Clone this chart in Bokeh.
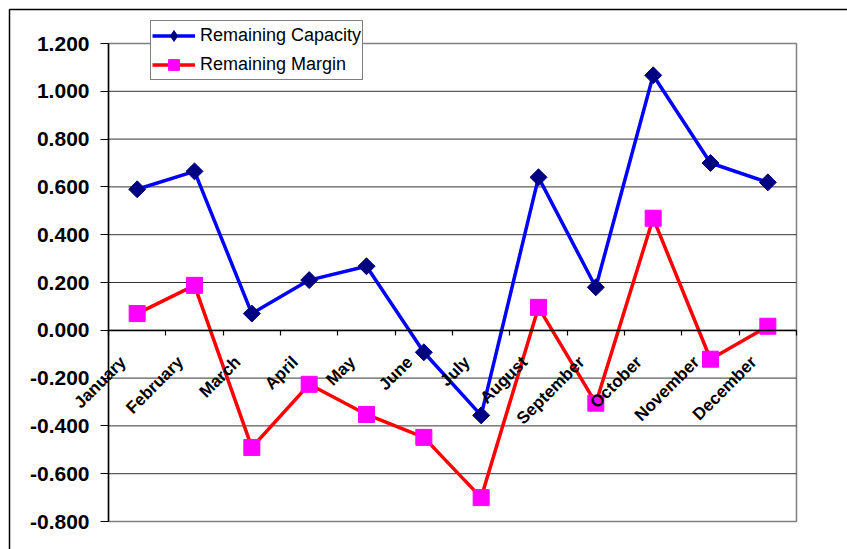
import math
from bokeh.plotting import figure
from bokeh.models import (Range1d, FixedTicker, PrintfTickFormatter, Legend, LegendItem,
                          BoxAnnotation, LinearAxis)
from bokeh.embed import file_html
from bokeh.resources import INLINE

months = ["January", "February", "March", "April", "May", "June", "July",
          "August", "September", "October", "November", "December"]
capacity = [0.590, 0.665, 0.070, 0.210, 0.268, -0.092, -0.356, 0.640, 0.180, 1.067, 0.700, 0.619]
margin = [0.070, 0.188, -0.490, -0.226, -0.352, -0.448, -0.700, 0.096, -0.305, 0.469, -0.121, 0.017]
y_ticks = [-0.8, -0.6, -0.4, -0.2, 0.0, 0.2, 0.4, 0.6, 0.8, 1.0, 1.2]

n = len(months)
x = [i + 0.5 for i in range(n)]
bounds = list(range(n + 1))
y_lo, y_hi = y_ticks[0], y_ticks[-1]

# layout (pixels) of the plot area inside the 847x549 canvas
W, H = 847, 549
PL, PR, PT, PB = 108, 796, 43, 521
ppx = (PR - PL) / n
ppy = (PB - PT) / (y_hi - y_lo)
LABEL_SHIFT = 14 / ppx  # rotated labels end slightly left of the category centre

FONT = "Liberation Sans"

p = figure(width=W, height=H, output_backend="svg", toolbar_location=None,
           x_range=Range1d(-PL / ppx, n + (W - PR) / ppx),
           y_range=Range1d(y_lo - (H - PB) / ppy, y_hi + PT / ppy),
           x_axis_location=None, y_axis_location=None, min_border=0)
p.background_fill_color = "white"
p.border_fill_color = "white"
p.outline_line_color = None
p.xgrid.visible = False
p.ygrid.visible = False

# plot-area box and gridlines
p.quad(left=0, right=n, bottom=y_lo, top=y_hi, fill_color=None,
       line_color="#808080", line_width=1.5)
inner = y_ticks[1:-1]
p.segment(x0=[0] * len(inner), y0=inner, x1=[n] * len(inner), y1=inner,
          line_color="#333333", line_width=1)

# value axis
yax = LinearAxis(fixed_location=0, bounds=(y_lo, y_hi),
                 ticker=FixedTicker(ticks=y_ticks),
                 formatter=PrintfTickFormatter(format="%.3f"))
yax.major_label_text_font = FONT
yax.major_label_text_font_style = "bold"
yax.major_label_text_font_size = "21px"
yax.major_label_text_color = "black"
yax.major_label_standoff = 11
yax.major_tick_out = 8
yax.major_tick_in = 0
yax.minor_tick_out = 0
yax.minor_tick_in = 0
yax.axis_line_color = "black"
yax.axis_line_width = 1.5
yax.major_tick_line_color = "black"
p.add_layout(yax, "left")

# category axis crossing at zero
label_pos = [c - LABEL_SHIFT for c in x]
xax = LinearAxis(fixed_location=0, bounds=(0, n),
                 ticker=FixedTicker(ticks=label_pos, minor_ticks=bounds),
                 major_label_overrides={c: m for c, m in zip(label_pos, months)})
xax.major_label_orientation = math.pi / 4
xax.major_label_text_font = FONT
xax.major_label_text_font_style = "bold"
xax.major_label_text_font_size = "17px"
xax.major_label_text_color = "black"
xax.major_label_standoff = 24
xax.major_tick_out = 0
xax.major_tick_in = 0
xax.minor_tick_out = 5
xax.minor_tick_in = 0
xax.minor_tick_line_color = "black"
xax.minor_tick_line_width = 1.2
xax.axis_line_color = "black"
xax.axis_line_width = 1.5
p.add_layout(xax, "below")

r1 = p.line(x, capacity, line_color="#0000FF", line_width=3.5)
s1 = p.scatter(x, capacity, marker="square", angle=math.pi / 4, size=12,
               fill_color="#000080", line_color="#000080")
r2 = p.line(x, margin, line_color="#FF0000", line_width=3.5)
s2 = p.scatter(x, margin, marker="square", size=16,
               fill_color="#FF00FF", line_color="#FF00FF")
# legend-only marker (legend glyphs are never rotated); its single point is NaN
k1 = p.scatter(x=[float("nan")], y=[float("nan")], marker="diamond", size=12,
               fill_color="#000080", line_color="#000080")

legend = Legend(items=[LegendItem(label="Remaining Capacity", renderers=[r1, k1]),
                       LegendItem(label="Remaining Margin", renderers=[r2, s2])],
                location=(150, H - 80))
legend.border_line_color = "black"
legend.border_line_width = 1
legend.background_fill_color = "white"
legend.background_fill_alpha = 1
legend.label_text_font = FONT
legend.label_text_font_size = "18px"
legend.label_text_color = "black"
legend.glyph_width = 43
legend.glyph_height = 27
legend.label_standoff = 5
legend.padding = 1
legend.spacing = 2
legend.margin = 0
p.add_layout(legend)

p.add_layout(BoxAnnotation(left=9, top=9, right=W + 50, bottom=H + 50,
                           left_units="canvas", right_units="canvas",
                           top_units="canvas", bottom_units="canvas",
                           fill_alpha=0, line_color="black", line_alpha=1,
                           line_width=1.5))

open("out.html", "w").write(file_html(p, INLINE))
